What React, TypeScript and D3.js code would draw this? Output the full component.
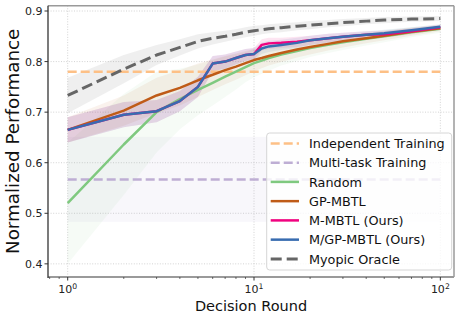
import React from 'react';
import * as d3 from 'd3';

// decision rounds (log x axis)
const rounds = [1, 2, 3, 4, 5, 6, 7, 8, 9, 10, 11, 12, 14, 17, 20, 25, 30, 40, 50, 70, 100];

const randomMean = [0.520, 0.636, 0.700, 0.726, 0.744, 0.758, 0.770, 0.780, 0.789, 0.797, 0.802, 0.807, 0.814, 0.821, 0.827, 0.833, 0.838, 0.845, 0.850, 0.858, 0.865];
const randomStd = [0.12, 0.10, 0.08, 0.06, 0.05, 0.045, 0.04, 0.035, 0.03, 0.028, 0.026, 0.025, 0.022, 0.02, 0.018, 0.016, 0.015, 0.013, 0.012, 0.01, 0.008];

const gpMean = [0.665, 0.703, 0.733, 0.748, 0.763, 0.774, 0.783, 0.790, 0.797, 0.803, 0.807, 0.811, 0.817, 0.824, 0.829, 0.835, 0.840, 0.846, 0.851, 0.859, 0.866];
const gpStd = [0.025, 0.03, 0.035, 0.035, 0.033, 0.03, 0.028, 0.026, 0.024, 0.022, 0.02, 0.019, 0.018, 0.016, 0.015, 0.013, 0.012, 0.01, 0.009, 0.008, 0.006];

const mMean = [0.665, 0.695, 0.702, 0.722, 0.750, 0.796, 0.800, 0.807, 0.813, 0.815, 0.833, 0.836, 0.837, 0.839, 0.842, 0.846, 0.849, 0.853, 0.854, 0.860, 0.868];
const mStd = [0.025, 0.025, 0.022, 0.02, 0.02, 0.015, 0.014, 0.013, 0.012, 0.012, 0.011, 0.011, 0.01, 0.01, 0.009, 0.009, 0.008, 0.007, 0.007, 0.006, 0.005];

const mgpMean = [0.665, 0.695, 0.702, 0.722, 0.750, 0.796, 0.800, 0.807, 0.813, 0.815, 0.826, 0.830, 0.833, 0.837, 0.842, 0.846, 0.849, 0.853, 0.856, 0.862, 0.869];
const mgpStd = [0.025, 0.025, 0.022, 0.02, 0.02, 0.015, 0.014, 0.013, 0.012, 0.012, 0.011, 0.011, 0.01, 0.01, 0.009, 0.009, 0.008, 0.007, 0.007, 0.006, 0.005];

const oracleMean = [0.733, 0.785, 0.813, 0.828, 0.840, 0.846, 0.850, 0.854, 0.858, 0.861, 0.863, 0.865, 0.867, 0.870, 0.872, 0.875, 0.877, 0.880, 0.882, 0.884, 0.885];
const oracleStd = [0.035, 0.028, 0.02, 0.016, 0.014, 0.012, 0.011, 0.01, 0.01, 0.01, 0.009, 0.009, 0.009, 0.008, 0.008, 0.007, 0.007, 0.006, 0.006, 0.005, 0.005];

const independentLevel = 0.78;
const multiTaskLevel = 0.567;
const multiTaskStd = 0.084;

const yTicks = [0.4, 0.5, 0.6, 0.7, 0.8, 0.9];
const xMajor = [1, 10, 100];
const xMinor = [0.8, 0.9, 2, 3, 4, 5, 6, 7, 8, 9, 20, 30, 40, 50, 60, 70, 80, 90];

const font = 'DejaVu Sans, sans-serif';

export default function App() {
  const left = 48, right = 454, top = 5.7, bottom = 277;
  const x = d3.scaleLog().domain([0.784, 118.4]).range([left, right]);
  const y = d3.scaleLinear().domain([0.374, 0.9105]).range([bottom, top]);

  const line = (vals: number[]) =>
    d3.line<number>().x((d, i) => x(rounds[i])).y(d => y(d))(vals) as string;
  const band = (m: number[], s: number[]) =>
    d3.area<number>()
      .x((d, i) => x(rounds[i]))
      .y0((d, i) => y(m[i] - s[i]))
      .y1((d, i) => y(m[i] + s[i]))(m) as string;

  const series = [
    { name: 'Random', mean: randomMean, std: randomStd, color: '#7fc97f', w: 2.5, dash: '', op: 0.07 },
    { name: 'GP-MBTL', mean: gpMean, std: gpStd, color: '#bf5b17', w: 2.5, dash: '', op: 0.08 },
    { name: 'M-MBTL (Ours)', mean: mMean, std: mStd, color: '#f0027f', w: 2.5, dash: '', op: 0.1 },
    { name: 'M/GP-MBTL (Ours)', mean: mgpMean, std: mgpStd, color: '#386cb0', w: 2.5, dash: '', op: 0.1 },
    { name: 'Myopic Oracle', mean: oracleMean, std: oracleStd, color: '#666666', w: 3, dash: '11,5', op: 0.1 },
  ];

  const legend = [
    { name: 'Independent Training', color: '#fdc086', w: 2.5, dash: '9,4' },
    { name: 'Multi-task Training', color: '#beaed4', w: 2.5, dash: '9,4' },
    ...series.map(s => ({ name: s.name, color: s.color, w: s.w, dash: s.dash })),
  ];

  const x1 = x(1), x100 = x(100);

  return (
    <svg width={465} height={319} style={{ position: 'absolute', left: 0, top: 0 }} fontFamily={font}>
      <rect width={465} height={319} fill="#fff" />
      {/* grid */}
      {yTicks.map(t => (
        <line key={'gy' + t} x1={left} x2={right} y1={y(t)} y2={y(t)} stroke="#c8c8c8" strokeWidth={0.8} strokeDasharray="1,1.6" />
      ))}
      {xMajor.map(t => (
        <line key={'gx' + t} x1={x(t)} x2={x(t)} y1={top} y2={bottom} stroke="#c8c8c8" strokeWidth={0.8} strokeDasharray="1,1.6" />
      ))}
      {/* bands */}
      <rect x={x1} width={x100 - x1} y={y(multiTaskLevel + multiTaskStd)} height={y(multiTaskLevel - multiTaskStd) - y(multiTaskLevel + multiTaskStd)} fill="#beaed4" fillOpacity={0.1} />
      {series.map(s => (
        <path key={'b' + s.name} d={band(s.mean, s.std)} fill={s.color} fillOpacity={s.op} />
      ))}
      {/* horizontal baselines */}
      <line x1={x1} x2={x100} y1={y(independentLevel)} y2={y(independentLevel)} stroke="#fdc086" strokeWidth={2.5} strokeDasharray="9,4" />
      <line x1={x1} x2={x100} y1={y(multiTaskLevel)} y2={y(multiTaskLevel)} stroke="#beaed4" strokeWidth={2.5} strokeDasharray="9,4" />
      {series.map(s => (
        <path key={'l' + s.name} d={line(s.mean)} fill="none" stroke={s.color} strokeWidth={s.w} strokeDasharray={s.dash || undefined} strokeLinejoin="round" />
      ))}
      {/* spines */}
      <line x1={left} x2={right} y1={top} y2={top} stroke="#9a9a9a" strokeWidth={1.5} />
      <line x1={right} x2={right} y1={top} y2={bottom} stroke="#9a9a9a" strokeWidth={1.5} />
      <line x1={left} x2={right} y1={bottom} y2={bottom} stroke="#9a9a9a" strokeWidth={2} />
      <line x1={left} x2={left} y1={top} y2={bottom + 1} stroke="#333" strokeWidth={1.3} />
      {/* y ticks */}
      {yTicks.map(t => (
        <g key={'yt' + t}>
          <line x1={left - 3.5} x2={left} y1={y(t)} y2={y(t)} stroke="#333" strokeWidth={1} />
          <text x={left - 5.5} y={y(t)} dy="0.36em" textAnchor="end" fontSize={11} fill="#222">{t.toFixed(1)}</text>
        </g>
      ))}
      {/* x ticks */}
      {xMinor.map(t => (
        <line key={'xm' + t} x1={x(t)} x2={x(t)} y1={bottom} y2={bottom + 2} stroke="#333" strokeWidth={0.7} />
      ))}
      {xMajor.map((t, i) => (
        <g key={'xt' + t}>
          <line x1={x(t)} x2={x(t)} y1={bottom} y2={bottom + 3.5} stroke="#333" strokeWidth={1} />
          <text x={x(t)} y={293} textAnchor="middle" fontSize={11} fill="#222">
            10<tspan dy={-4.5} fontSize={7.7}>{i * 1}</tspan>
          </text>
        </g>
      ))}
      {/* axis labels */}
      <text x={(left + right) / 2} y={311} textAnchor="middle" fontSize={14.5} fill="#111">Decision Round</text>
      <text transform={`translate(19,${(top + bottom) / 2}) rotate(-90)`} textAnchor="middle" fontSize={18.3} fill="#111">Normalized Performance</text>
      {/* legend */}
      <rect x={266.7} y={133} width={185} height={137} rx={3} fill="#fff" fillOpacity={0.8} stroke="#d6d6d6" strokeWidth={1} />
      {legend.map((l, i) => {
        const cy = 143.4 + i * 19.25;
        return (
          <g key={'lg' + l.name}>
            <line x1={270.7} x2={299} y1={cy} y2={cy} stroke={l.color} strokeWidth={l.w} strokeDasharray={l.dash || undefined} />
            <text x={309} y={cy} dy="0.36em" fontSize={12.8} fill="#111">{l.name}</text>
          </g>
        );
      })}
    </svg>
  );
}
